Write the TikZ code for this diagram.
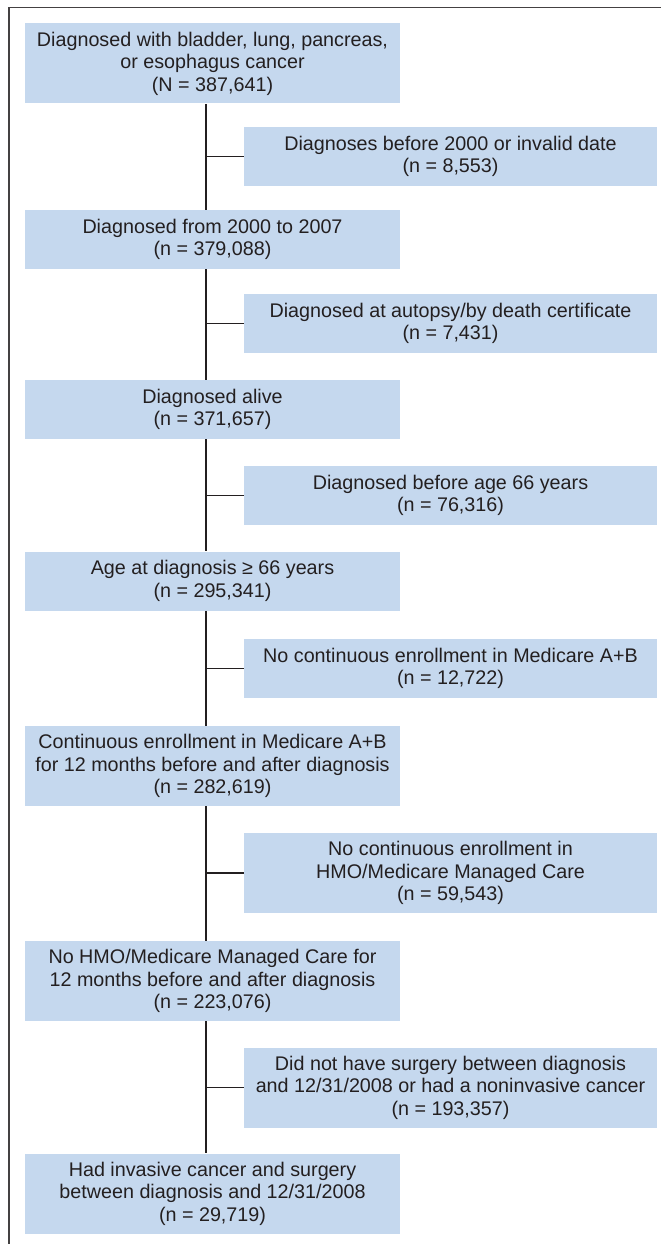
\documentclass[tikz,border=0pt]{standalone}
\usepackage{fontspec}
\setmainfont{Liberation Sans}
\usepackage{tikz}

\definecolor{boxblue}{RGB}{197,216,238}
\definecolor{inkgray}{RGB}{35,31,32}

\begin{document}
\begin{tikzpicture}[x=0.75pt,y=-0.75pt,
  every node/.style={font=\fontsize{14.8}{16.9}\selectfont,text=inkgray},
  mainbox/.style={fill=boxblue,inner sep=0pt,align=center,minimum width=281.25pt,minimum height=44.25pt},
  sidebox/.style={fill=boxblue,inner sep=0pt,align=center,minimum width=309.75pt,minimum height=44.25pt},
  tallbox/.style={minimum height=60pt}]
\useasboundingbox (0,0) rectangle (661,1244);
\draw[line width=1.1pt,inkgray!85] (9,1244) -- (9,7.5) -- (661,7.5);
\coordinate (spine) at (206,0);
\node[mainbox,tallbox] (b1) at (212.5,63.5) {Diagnosed with bladder, lung, pancreas,\\or esophagus cancer\\(N = 387,641)};
\node[sidebox] (s1) at (450.5,156.5) {Diagnoses before 2000 or invalid date\\(n = 8,553)};
\node[mainbox] (b2) at (212.5,239.5) {Diagnosed from 2000 to 2007\\(n = 379,088)};
\node[sidebox] (s2) at (450.5,323.5) {Diagnosed at autopsy/by death certificate\\(n = 7,431)};
\node[mainbox] (b3) at (212.5,409.5) {Diagnosed alive\\(n = 371,657)};
\node[sidebox] (s3) at (450.5,495.5) {Diagnosed before age 66 years\\(n = 76,316)};
\node[mainbox] (b4) at (212.5,581) {Age at diagnosis ≥ 66 years\\(n = 295,341)};
\node[sidebox] (s4) at (450.5,668.5) {No continuous enrollment in Medicare A+B\\(n = 12,722)};
\node[mainbox,tallbox] (b5) at (212.5,766) {Continuous enrollment in Medicare A+B\\for 12 months before and after diagnosis\\(n = 282,619)};
\node[sidebox,tallbox] (s5) at (450.5,873) {No continuous enrollment in\\HMO/Medicare Managed Care\\(n = 59,543)};
\node[mainbox,tallbox] (b6) at (212.5,981) {No HMO/Medicare Managed Care for\\12 months before and after diagnosis\\(n = 223,076)};
\node[sidebox,tallbox] (s6) at (450.5,1087.5) {Did not have surgery between diagnosis\\and 12/31/2008 or had a noninvasive cancer\\(n = 193,357)};
\node[mainbox,tallbox] (b7) at (212.5,1193.5) {Had invasive cancer and surgery\\between diagnosis and 12/31/2008\\(n = 29,719)};
\foreach \from/\to in {b1/b2,b2/b3,b3/b4,b4/b5,b5/b6,b6/b7}
\draw[line width=1pt,inkgray] (\from.south -| spine) -- (\to.north -| spine);
\foreach \side in {s1,s2,s3,s4,s5,s6}
\draw[line width=1pt,inkgray] (\side.west -| spine) -- (\side.west);
\end{tikzpicture}
\end{document}
